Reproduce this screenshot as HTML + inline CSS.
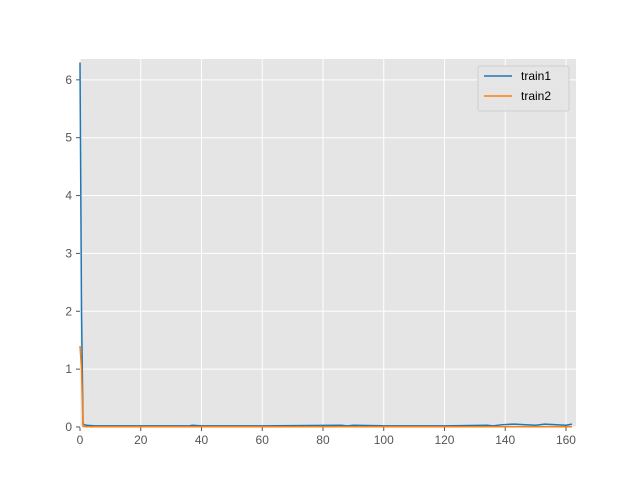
<!DOCTYPE html>
<html><head><meta charset="utf-8"><style>
body{margin:0;background:#fff}
svg{display:block;font-family:"Liberation Sans","DejaVu Sans",sans-serif}
</style></head><body>
<svg id="c" width="640" height="480"></svg>
<script>
const xTicks=[0,20,40,60,80,100,120,140,160];
const yTicks=[0,1,2,3,4,5,6];
const train1X=[0,0.5,1,2,5,10,20,36,37,40,60,86,88,90,100,120,134,136,139,143,146,150,153,160,162];
const train1Y=[6.3,2.0,0.05,0.03,0.02,0.02,0.02,0.02,0.03,0.02,0.02,0.03,0.02,0.03,0.02,0.02,0.03,0.02,0.04,0.05,0.04,0.03,0.05,0.03,0.05];
const train2X=[0,0.5,1,2,10,40,80,120,160,162];
const train2Y=[1.4,1.0,0.01,0.005,0.005,0.005,0.005,0.005,0.005,0.005];
const L=80,R=576,T=59,B=427,xMax=163.3,yMax=6.36;
const sx=v=>L+v/xMax*(R-L), sy=v=>B-v/yMax*(B-T);
const svg=document.getElementById('c');const NS='http://www.w3.org/2000/svg';
function mk(t,a,p){const e=document.createElementNS(NS,t);for(const k in a)e.setAttribute(k,a[k]);(p||svg).appendChild(e);return e;}
const bg=mk('rect',{x:L,y:T,width:R-L,height:B-T,fill:'#e5e5e5'});


xTicks.forEach(v=>{const x=sx(v);
const g=mk('line',{x1:x,x2:x,y1:T,y2:B,stroke:'#fff','stroke-width':1});


mk('line',{x1:x,x2:x,y1:B,y2:B+4,stroke:'#555'});
const t=mk('text',{x:x,y:B+17,'text-anchor':'middle','font-size':12,fill:'#555'});t.textContent=v;

});
yTicks.forEach(v=>{const y=sy(v);
const g=mk('line',{x1:L,x2:R,y1:y,y2:y,stroke:'#fff','stroke-width':1});


mk('line',{x1:L-4,x2:L,y1:y,y2:y,stroke:'#555'});
const t=mk('text',{x:L-8,y:y+4,'text-anchor':'end','font-size':12,fill:'#555'});t.textContent=v;

});
function line(xs,ys,c,n){const p=mk('polyline',{points:xs.map((x,i)=>sx(x)+','+sy(ys[i])).join(' '),fill:'none',stroke:c,'stroke-width':1.5});

}
line(train1X,train1Y,'#1f77b4','train1-line');
line(train2X,train2Y,'#ff7f0e','train2-line');
const lg=mk('g',{});


mk('rect',{x:478,y:66,width:91,height:45,fill:'#e5e5e5',stroke:'#ccc',rx:2,opacity:0.9},lg);
[['train1','#1f77b4'],['train2','#ff7f0e']].forEach((d,i)=>{const y=76+i*20;
mk('line',{x1:484,x2:512,y1:y,y2:y,stroke:d[1],'stroke-width':1.5},lg);
const t=mk('text',{x:521,y:y+4,'font-size':12,fill:'#000'},lg);t.textContent=d[0];

});
</script>
</body></html>
